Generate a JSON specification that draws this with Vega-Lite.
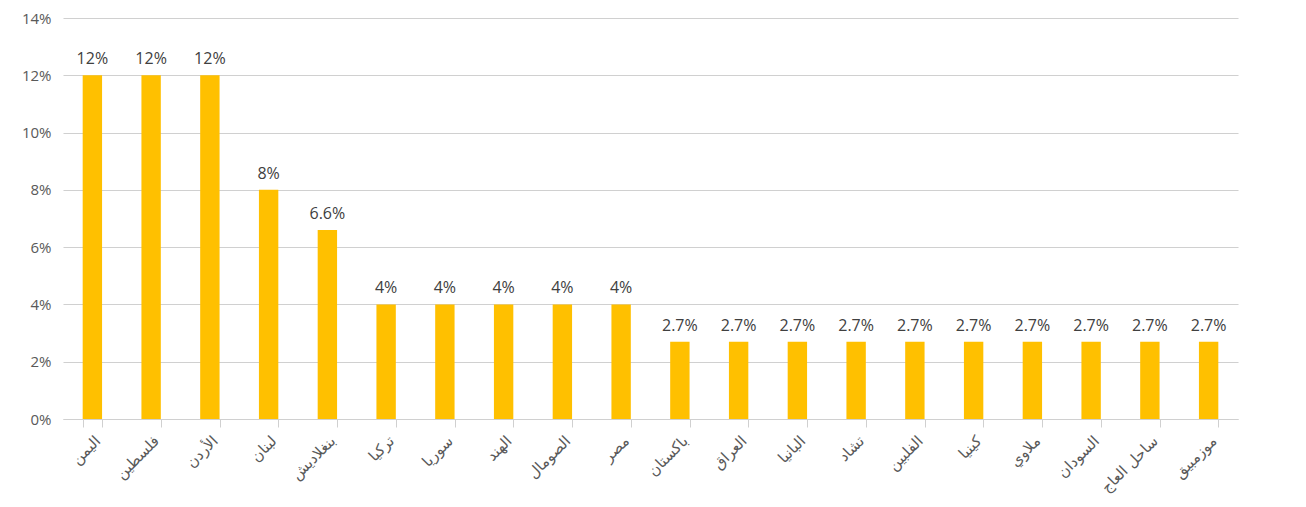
{
  "$schema": "https://vega.github.io/schema/vega-lite/v6.json",
  "autosize": "none",
  "width": 1175,
  "height": 401,
  "padding": {"left": 63, "top": 18, "right": 68, "bottom": 88},
  "background": "white",
  "data": {"values": [
    {"country": "اليمن", "value": 0.12},
    {"country": "فلسطين", "value": 0.12},
    {"country": "الأردن", "value": 0.12},
    {"country": "لبنان", "value": 0.08},
    {"country": "بنغلاديش", "value": 0.066},
    {"country": "تركيا", "value": 0.04},
    {"country": "سوريا", "value": 0.04},
    {"country": "الهند", "value": 0.04},
    {"country": "الصومال", "value": 0.04},
    {"country": "مصر", "value": 0.04},
    {"country": "باكستان", "value": 0.027},
    {"country": "العراق", "value": 0.027},
    {"country": "البانيا", "value": 0.027},
    {"country": "تشاد", "value": 0.027},
    {"country": "الفلبين", "value": 0.027},
    {"country": "كينيا", "value": 0.027},
    {"country": "ملاوي", "value": 0.027},
    {"country": "السودان", "value": 0.027},
    {"country": "ساحل العاج", "value": 0.027},
    {"country": "موزمبيق", "value": 0.027}
  ]},
  "config": {"view": {"stroke": null}},
  "encoding": {
    "x": {"field": "country", "type": "nominal", "sort": null,
      "scale": {"paddingInner": 0.67, "paddingOuter": 0.335},
      "axis": {"title": null, "labelAngle": -45, "labelFont": "DejaVu Sans", "labelFontSize": 15,
        "labelColor": "#595959", "domainColor": "#d0d0d0", "tickColor": "#d0d0d0", "tickBand": "extent",
        "tickSize": 8, "labelPadding": 6, "grid": false}},
    "y": {"field": "value", "type": "quantitative",
      "scale": {"domain": [0, 0.14]},
      "axis": {"title": null, "format": ".0%", "values": [0, 0.02, 0.04, 0.06, 0.08, 0.1, 0.12, 0.14],
        "labelFont": "Open Sans", "labelFontSize": 15, "labelColor": "#595959", "ticks": false, "domain": false,
        "labelPadding": 12, "gridColor": "#d0d0d0", "gridWidth": 1.2}}
  },
  "layer": [
    {"mark": {"type": "bar", "color": "#FFC000"}},
    {"mark": {"type": "text", "baseline": "bottom", "dy": -8, "font": "Open Sans", "fontSize": 16, "color": "#404040"},
      "encoding": {"text": {"field": "value", "type": "quantitative", "format": ".1~%"}}}
  ]
}
